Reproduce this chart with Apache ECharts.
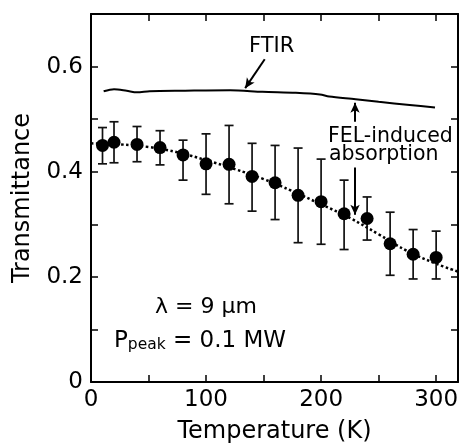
<!DOCTYPE html>
<html>
<head>
<meta charset="utf-8">
<script src="https://cdn.jsdelivr.net/npm/echarts@6/dist/echarts.min.js"></script>
<style>html,body{margin:0;padding:0;background:#fff;}#c{width:459px;height:447px;}</style>
</head>
<body>
<div id="c"></div>
<script>
// Measured FEL transmittance (dots with error bars)
var temps = [10, 20, 40, 60, 80, 100, 120, 140, 160, 180, 200, 220, 240, 260, 280, 300];
var trans = [0.450, 0.456, 0.452, 0.446, 0.432, 0.415, 0.414, 0.391, 0.379, 0.355, 0.343, 0.320, 0.311, 0.263, 0.243, 0.237];
var errHi = [0.484, 0.495, 0.486, 0.478, 0.460, 0.472, 0.488, 0.454, 0.450, 0.445, 0.424, 0.384, 0.352, 0.323, 0.290, 0.287];
var errLo = [0.415, 0.417, 0.419, 0.413, 0.384, 0.357, 0.339, 0.325, 0.309, 0.265, 0.262, 0.252, 0.270, 0.203, 0.196, 0.196];
// Dotted guide curve
var fitT = [0, 25, 50, 75, 100, 125, 150, 175, 200, 225, 250, 275, 300, 319];
var fitV = [0.454, 0.452, 0.447, 0.437, 0.422, 0.405, 0.386, 0.363, 0.338, 0.312, 0.281, 0.249, 0.225, 0.210];
// FTIR curve
var ftirT = [11, 20, 31, 40, 51, 80, 121, 149, 178, 199, 207, 230, 250, 277, 299];
var ftirV = [0.553, 0.557, 0.554, 0.551, 0.553, 0.554, 0.555, 0.552, 0.550, 0.547, 0.543, 0.538, 0.533, 0.527, 0.522];
// Axis ticks
var xLabels = [0, 100, 200, 300];
var yLabels = [0, 0.2, 0.4, 0.6];
// Annotation arrows [x1, y1, x2, y2] in data units (tail -> head)
var arrowFTIR = [151, 0.614, 134, 0.559];
var arrowUp = [229.5, 0.495, 229.5, 0.531];
var arrowDown = [229.5, 0.408, 229.5, 0.318];

var FONT = 'DejaVu Sans';
var chart = echarts.init(document.getElementById('c'), null, {renderer: 'canvas'});

function zip(a, b) { return a.map(function (v, i) { return [v, b[i]]; }); }
function arrowLine(a) {
  return [{coord: [a[0], a[1]], symbol: 'none'}, {coord: [a[2], a[3]], symbol: 'arrow', symbolSize: [7, 10]}];
}

var axisLine = {show: true, onZero: false, lineStyle: {color: '#000', width: 2}};
var tickStyle = {show: true, inside: true, length: 7, lineStyle: {color: '#000', width: 1.5}};

var option = {
  animation: false,
  backgroundColor: '#fff',
  grid: {left: 91, top: 14, right: 1, bottom: 65, containLabel: false, outerBoundsMode: 'none'},
  xAxis: [{
    type: 'value', min: 0, max: 319, interval: 50, position: 'bottom',
    axisLine: axisLine, axisTick: tickStyle, splitLine: {show: false},
    axisLabel: {color: '#000', fontFamily: FONT, fontSize: 23, margin: 7,
      formatter: function (v) { return xLabels.indexOf(v) >= 0 ? String(v) : ''; }},
    name: 'Temperature (K)', nameLocation: 'middle', nameGap: 38,
    nameTextStyle: {color: '#000', fontFamily: FONT, fontSize: 24}
  }, {
    type: 'value', min: 0, max: 319, interval: 50, position: 'top',
    axisLine: axisLine, axisTick: tickStyle, axisLabel: {show: false}, splitLine: {show: false}
  }],
  yAxis: [{
    type: 'value', min: 0, max: 0.7, interval: 0.1, position: 'left',
    axisLine: axisLine, axisTick: tickStyle, splitLine: {show: false},
    axisLabel: {color: '#000', fontFamily: FONT, fontSize: 23, margin: 8,
      formatter: function (v) {
        for (var i = 0; i < yLabels.length; i++) {
          if (Math.abs(v - yLabels[i]) < 1e-6) return yLabels[i] === 0 ? '0' : yLabels[i].toFixed(1);
        }
        return '';
      }},
    name: 'Transmittance', nameLocation: 'middle', nameGap: 56,
    nameTextStyle: {color: '#000', fontFamily: FONT, fontSize: 24}
  }, {
    type: 'value', min: 0, max: 0.7, interval: 0.1, position: 'right',
    axisLine: axisLine, axisTick: tickStyle, axisLabel: {show: false}, splitLine: {show: false}
  }],
  series: [{
    type: 'line', name: 'fit', data: zip(fitT, fitV), smooth: 0.4, showSymbol: false, symbol: 'none',
    lineStyle: {color: '#000', width: 2.5, type: [2.5, 2.5]}, z: 1, silent: true
  }, {
    type: 'custom', name: 'err', z: 2,
    data: temps.map(function (t, i) { return [t, errLo[i], errHi[i]]; }),
    renderItem: function (params, api) {
      var top = api.coord([api.value(0), api.value(2)]);
      var bot = api.coord([api.value(0), api.value(1)]);
      var hw = 4.5;
      var st = {stroke: '#111', lineWidth: 1.7};
      return {type: 'group', children: [
        {type: 'line', shape: {x1: top[0], y1: top[1], x2: bot[0], y2: bot[1]}, style: st},
        {type: 'line', shape: {x1: top[0] - hw, y1: top[1], x2: top[0] + hw, y2: top[1]}, style: st},
        {type: 'line', shape: {x1: bot[0] - hw, y1: bot[1], x2: bot[0] + hw, y2: bot[1]}, style: st}
      ]};
    }
  }, {
    type: 'scatter', name: 'data', data: zip(temps, trans), symbol: 'circle', symbolSize: 13,
    itemStyle: {color: '#000', opacity: 1}, z: 3
  }, {
    type: 'line', name: 'FTIR', data: zip(ftirT, ftirV), showSymbol: false, symbol: 'none', smooth: 0.3,
    lineStyle: {color: '#000', width: 2}, z: 3,
    markLine: {
      silent: true, animation: false,
      lineStyle: {color: '#000', width: 2, type: 'solid'},
      label: {show: false},
      data: [arrowLine(arrowFTIR), arrowLine(arrowUp), arrowLine(arrowDown)]
    }
  }],
  graphic: [
    {type: 'text', left: 249, top: 36, style: {text: 'FTIR', fill: '#000', font: '21px "DejaVu Sans"'}},
    {type: 'text', left: 328, top: 126, style: {text: 'FEL-induced', fill: '#000', font: '20.5px "DejaVu Sans"'}},
    {type: 'text', left: 329, top: 144, style: {text: 'absorption', fill: '#000', font: '20.5px "DejaVu Sans"'}},
    {type: 'text', left: 155, top: 296, style: {text: 'λ = 9 μm', fill: '#000', font: '22px "DejaVu Sans"'}},
    {type: 'text', left: 114, top: 330, style: {
      text: '{a|P}{b|peak}{a| = 0.1 MW}', fill: '#000',
      rich: {
        a: {fontFamily: FONT, fontSize: 23, color: '#000', verticalAlign: 'bottom'},
        b: {fontFamily: FONT, fontSize: 15.5, color: '#000', verticalAlign: 'bottom'}
      }
    }}
  ]
};
chart.setOption(option);
</script>
</body>
</html>
